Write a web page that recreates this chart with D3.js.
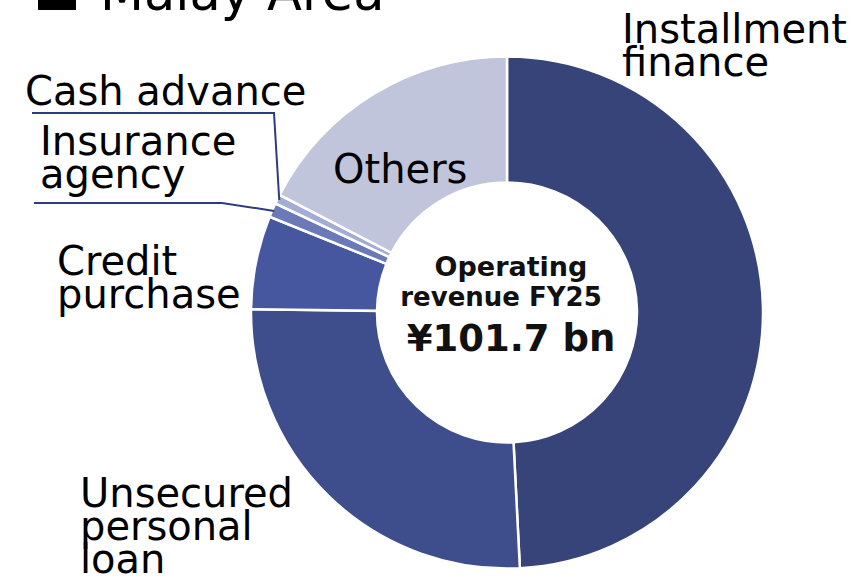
<!DOCTYPE html>
<html>
<head>
<meta charset="utf-8">
<script src="https://cdn.jsdelivr.net/npm/d3@7"></script>
<style>
  body { margin: 0; background: #fff; }
  svg { display: block; }
</style>
</head>
<body>
<svg id="chart" width="861" height="584"></svg>
<script>
// data (share of operating revenue, %)
var categories = ["Installment finance", "Unsecured personal loan", "Credit purchase", "Insurance agency", "Cash advance", "Others"];
var shares = [49.2, 26.0, 5.9, 0.9, 0.6, 17.4];
var colors = ["#364479", "#3e4d8b", "#4657a0", "#6b79b8", "#a3acd4", "#c1c5dc"];
var title = "Malay Area";
var centerLines = ["Operating", "revenue FY25", "¥101.7 bn"];

var svg = d3.select("#chart"),
    cx = 507, cy = 312.5,
    outerR = 256, innerR = 130;

var data = categories.map(function(c, i) { return {name: c, value: shares[i], color: colors[i]}; });

var pie = d3.pie()
    .sort(null)
    .value(function(d) { return d.value; });

var arc = d3.arc()
    .innerRadius(innerR)
    .outerRadius(outerR);

var g = svg.append("g").attr("transform", "translate(" + cx + "," + cy + ")");
var arcs = pie(data);

g.selectAll("path")
  .data(arcs)
  .enter().append("path")
    .attr("d", arc)
    .attr("fill", function(d) { return d.data.color; })
    .attr("stroke", "#fff")
    .attr("stroke-width", 2.5);

// title (cut at the top edge, as in the source)
svg.append("rect")
    .attr("x", 38).attr("y", -30)
    .attr("width", 38).attr("height", 40)
    .attr("fill", "#000");
svg.append("text")
    .attr("x", 100).attr("y", 10)
    .attr("font-family", "DejaVu Sans")
    .attr("font-size", 51)
    .attr("fill", "#000")
    .text(title);

// labels: x, baseline of first line
var labelPos = {
  "Installment finance": {x: 622, y: 43, lines: ["Installment", "finance"]},
  "Unsecured personal loan": {x: 80, y: 507, lines: ["Unsecured", "personal", "loan"]},
  "Credit purchase": {x: 57, y: 275, lines: ["Credit", "purchase"]},
  "Insurance agency": {x: 40, y: 155, lines: ["Insurance", "agency"]},
  "Cash advance": {x: 25, y: 105, lines: ["Cash advance"]},
  "Others": {x: 333, y: 183, lines: ["Others"]}
};

var labels = svg.append("g")
    .attr("font-family", "DejaVu Sans")
    .attr("font-size", 40)
    .attr("fill", "#000");

data.forEach(function(d) {
  var p = labelPos[d.name];
  var t = labels.append("text").attr("x", p.x).attr("y", p.y);
  p.lines.forEach(function(l, i) {
    t.append("tspan").attr("x", p.x).attr("dy", i ? 33 : 0).text(l);
  });
});

// leader lines for thin slices
var leaders = {
  "Cash advance": {x0: 32, y0: 113, x1: 274, y1: 113},
  "Insurance agency": {x0: 34, y0: 203, x1: 222, y1: 203}
};
arcs.forEach(function(a) {
  var L = leaders[a.data.name];
  if (!L) return;
  var mid = (a.startAngle + a.endAngle) / 2;
  var ex = cx + Math.sin(mid) * (outerR - 2),
      ey = cy - Math.cos(mid) * (outerR - 2);
  svg.append("path")
      .attr("d", d3.line()([[L.x0, L.y0], [L.x1, L.y1], [ex, ey]]))
      .attr("fill", "none")
      .attr("stroke", "#2e3c7c")
      .attr("stroke-width", 2);
});

// center text
var ct = svg.append("g")
    .attr("font-family", "DejaVu Sans")
    .attr("font-weight", "bold")
    .attr("text-anchor", "middle")
    .attr("fill", "#111");
ct.append("text").attr("x", 511).attr("y", 276).attr("font-size", 27).text(centerLines[0]);
ct.append("text").attr("x", 501).attr("y", 306).attr("font-size", 26).text(centerLines[1]);
ct.append("text").attr("x", 511).attr("y", 351).attr("font-size", 37).text(centerLines[2]);
</script>
</body>
</html>
